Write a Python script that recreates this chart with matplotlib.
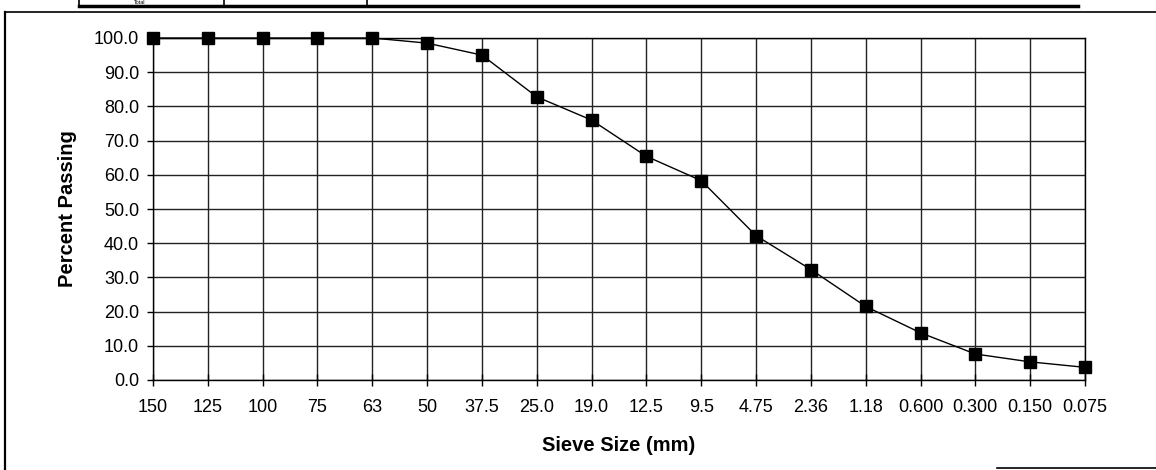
import matplotlib
matplotlib.use("Agg")
import matplotlib.pyplot as plt
from matplotlib.lines import Line2D

plt.rcParams['font.family'] = ['Liberation Sans', 'DejaVu Sans']

# sieve sizes (mm) and percent passing
sieve_labels = ['150', '125', '100', '75', '63', '50', '37.5', '25.0', '19.0', '12.5',
                '9.5', '4.75', '2.36', '1.18', '0.600', '0.300', '0.150', '0.075']
percent_passing = [100.0, 100.0, 100.0, 100.0, 100.0, 98.5, 95.0, 82.8, 76.0, 65.4,
                   58.3, 42.2, 32.3, 21.5, 13.8, 7.6, 5.3, 3.7]
y_ticks = [0, 10, 20, 30, 40, 50, 60, 70, 80, 90, 100]

fig = plt.figure(figsize=(11.56, 4.70), dpi=100)

# outer chart frame (partly cropped scan)
fig.add_artist(Line2D([5/1156, 5/1156], [0, 1 - 12/470], color='black', lw=1.6, transform=fig.transFigure))
fig.add_artist(Line2D([5/1156, 1], [1 - 12/470, 1 - 12/470], color='black', lw=1.2, transform=fig.transFigure))
fig.add_artist(Line2D([997/1156, 1], [2/470, 2/470], color='black', lw=1.2, transform=fig.transFigure))

# bottom of the table above the chart
fig.add_artist(Line2D([79/1156, 1078/1156], [1 - 6/470, 1 - 6/470], color='black', lw=2.5, transform=fig.transFigure))
for xv in [79, 224, 367]:
    fig.add_artist(Line2D([xv/1156, xv/1156], [1 - 6/470, 1], color='black', lw=1.2, transform=fig.transFigure))
fig.text(140/1156, 1 - 4.5/470, 'Total', fontsize=4, va='bottom', ha='center')

ax = fig.add_axes([153/1156, 1 - 380/470, 932/1156, 342/470])
x = list(range(len(sieve_labels)))
ax.plot(x, percent_passing, color='black', lw=1.0, marker='s', markersize=8,
        markerfacecolor='black', markeredgecolor='black', clip_on=False, zorder=5)

ax.set_xlim(0, len(sieve_labels) - 1)
ax.set_ylim(0, 100)
ax.set_xticks(x)
ax.set_xticklabels(sieve_labels, fontsize=13)
ax.set_yticks(y_ticks)
ax.set_yticklabels([f'{v:.1f}' for v in y_ticks], fontsize=13)
ax.tick_params(axis='x', direction='inout', length=8, width=1, pad=10)
ax.tick_params(axis='y', direction='out', length=4, width=1, pad=6)
ax.grid(True, color='#222222', lw=1.0)
ax.set_axisbelow(True)
for s in ax.spines.values():
    s.set_color('black')
    s.set_linewidth(1.0)

ax.set_ylabel('Percent Passing', fontsize=14.5, fontweight='bold', labelpad=12)
ax.set_xlabel('Sieve Size (mm)', fontsize=14.5, fontweight='bold', labelpad=14)

fig.savefig('out.png', dpi=100)
